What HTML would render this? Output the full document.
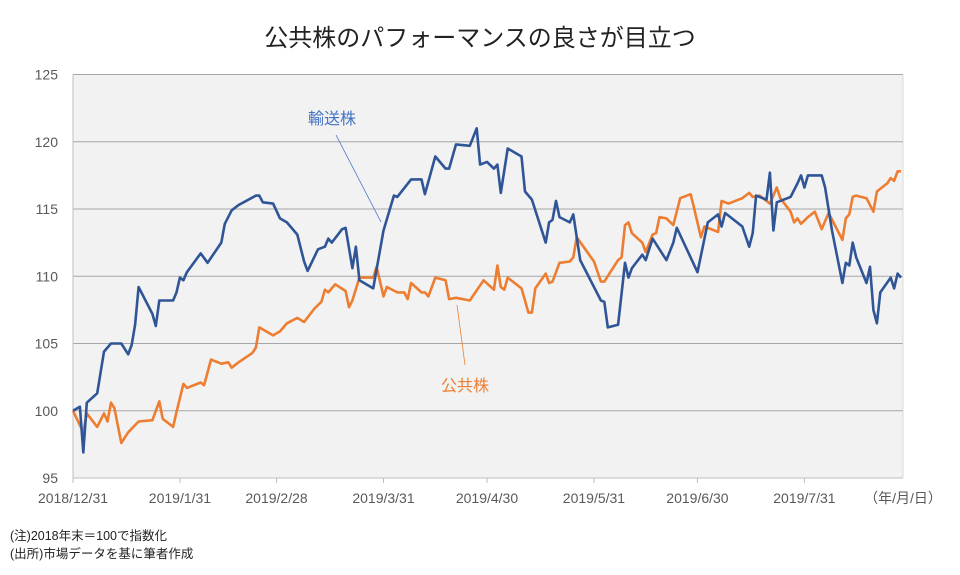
<!DOCTYPE html>
<html><head><meta charset="utf-8"><style>
body{margin:0;background:#fff;width:960px;height:570px;overflow:hidden;font-family:"Liberation Sans","Noto Sans CJK JP",sans-serif;}
</style></head><body>
<svg id="chart" width="960" height="570" xmlns="http://www.w3.org/2000/svg" font-family="Liberation Sans, Noto Sans CJK JP, sans-serif">
<text x="480" y="46" text-anchor="middle" font-size="24" fill="#222">公共株のパフォーマンスの良さが目立つ</text>
<rect x="73" y="74.5" width="830" height="403.5" fill="#f2f2f2"/>
<g id="grid"></g><g id="axes"></g><g id="series"></g>
<line x1="336" y1="135" x2="381" y2="222" stroke="#4472c4" stroke-width="0.8"/>
<text x="332" y="124" text-anchor="middle" font-size="16" fill="#4472c4">輸送株</text>
<line x1="457" y1="305" x2="465" y2="365" stroke="#ed7d31" stroke-width="0.8"/>
<text x="465" y="391" text-anchor="middle" font-size="16" fill="#ed7d31">公共株</text>
<text x="903" y="503" text-anchor="middle" font-size="14" fill="#595959">（年/月/日）</text>
<text x="10" y="540" font-size="12.5" fill="#222">(注)2018年末＝100で指数化</text>
<text x="10" y="558" font-size="12.5" fill="#222">(出所)市場データを基に筆者作成</text>
</svg>
<script>
const yTicks=[95,100,105,110,115,120,125];
const xTickLabels=["2018/12/31","2019/1/31","2019/2/28","2019/3/31","2019/4/30","2019/5/31","2019/6/30","2019/7/31"];
const xTickDays=[0,31,59,90,120,151,181,212];
const transportDays=[0,2,3,4,7,9,11,14,16,17,18,19,23,24,25,29,30,31,32,33,37,39,43,44,46,48,53,54,55,58,60,62,65,67,68,71,73,74,75,78,79,81,82,83,87,90,93,94,98,101,102,105,108,109,111,115,117,118,120,122,123,124,126,130,131,133,137,138,139,140,141,144,145,147,153,154,155,158,160,161,162,165,166,168,172,174,175,181,184,187,188,189,194,196,197,198,201,202,203,204,208,210,211,212,213,217,218,220,223,224,225,226,227,230,231,232,233,234,237,238,239,240];
const transportValues=[100.0,100.3,96.9,100.6,101.3,104.4,105.0,105.0,104.2,104.9,106.4,109.2,107.2,106.3,108.2,108.2,108.8,109.9,109.7,110.3,111.7,111.0,112.5,113.9,114.9,115.3,116.0,116.0,115.5,115.4,114.3,114.0,113.1,111.1,110.4,112.0,112.2,112.8,112.5,113.5,113.6,110.6,112.2,109.7,109.1,113.4,116.0,115.9,117.2,117.2,116.1,118.9,118.0,118.0,119.8,119.7,121.0,118.3,118.5,118.0,118.3,116.2,119.5,118.9,116.3,115.7,112.5,114.0,114.2,115.6,114.4,114.0,114.6,111.2,108.2,108.1,106.2,106.4,111.0,109.9,110.6,111.6,111.2,112.8,111.2,112.5,113.6,110.3,114.0,114.6,113.7,114.7,113.7,112.2,113.2,116.0,115.7,117.7,113.4,115.5,115.9,116.9,117.5,116.6,117.5,117.5,116.6,113.4,109.5,111.0,110.8,112.5,111.4,109.5,110.7,107.5,106.5,108.8,109.9,109.1,110.2,109.9];
const utilityDays=[0,3,4,7,9,10,11,12,14,16,19,23,25,26,29,30,32,33,37,38,40,43,45,46,48,52,53,54,58,60,62,65,67,70,72,73,74,76,79,80,81,83,87,88,90,91,94,96,97,98,101,102,103,105,108,109,111,115,119,122,123,124,125,126,130,131,132,133,134,137,138,139,141,144,145,146,151,153,154,158,159,160,161,162,165,166,168,169,170,172,174,176,179,180,182,183,187,188,190,194,196,197,199,202,204,205,208,209,210,211,213,215,217,219,223,224,225,226,227,230,232,233,236,237,238,239,240];
const utilityValues=[100.0,98.4,99.8,98.8,99.8,99.2,100.6,100.2,97.6,98.4,99.2,99.3,100.7,99.4,98.8,99.9,102.0,101.7,102.1,101.9,103.8,103.5,103.6,103.2,103.6,104.3,104.7,106.2,105.6,105.9,106.5,106.9,106.6,107.6,108.1,109.0,108.8,109.4,108.9,107.7,108.2,109.9,109.9,110.7,108.5,109.2,108.8,108.8,108.3,109.5,108.8,108.8,108.5,109.9,109.7,108.3,108.4,108.2,109.7,109.0,110.8,109.2,109.0,109.9,109.1,108.2,107.3,107.3,109.1,110.2,109.5,109.6,111.0,111.1,111.4,112.9,111.1,109.6,109.6,111.2,111.4,113.8,114.0,113.2,112.5,111.8,113.1,113.2,114.4,114.3,113.8,115.8,116.1,115.1,112.9,113.7,113.3,115.6,115.4,115.8,116.2,115.9,116.0,115.4,116.6,115.8,114.8,114.0,114.3,113.9,114.4,114.8,113.5,114.7,112.7,114.3,114.6,115.9,116.0,115.8,114.8,116.3,116.9,117.3,117.1,117.8,117.8];

const NS="http://www.w3.org/2000/svg";
const X0=73,X1=903,Y0=478,Y1=74.5;
function xs(d){return X0+d*3.45;}
function ys(v){return Y0-(v-95)*(Y0-Y1)/30;}
function mk(t,a,p){const e=document.createElementNS(NS,t);for(const k in a)e.setAttribute(k,a[k]);p.appendChild(e);return e;}
const grid=document.getElementById('grid'),axes=document.getElementById('axes'),series=document.getElementById('series');
yTicks.forEach(v=>{
  const l=mk('line',{x1:X0,x2:X1,y1:ys(v),y2:ys(v),stroke:v===95?'#bfbfbf':'#a6a6a6','stroke-width':1},grid);
  
  
  const t=mk('text',{x:58,y:ys(v)+5,'text-anchor':'end','font-size':14,fill:'#595959'},axes);
  t.textContent=v;
  
  
});
const ya=mk('line',{x1:X0,x2:X0,y1:Y1,y2:Y0,stroke:'#bfbfbf'},axes);


const rb=mk('line',{x1:X1,x2:X1,y1:Y1,y2:Y0,stroke:'#d9d9d9'},axes);


xTickLabels.forEach((s,i)=>{
  const x=xs(xTickDays[i]);
  const tk=mk('line',{x1:x,x2:x,y1:Y0,y2:Y0+5,stroke:'#bfbfbf'},axes);
  
  
  const t=mk('text',{x:x,y:503,'text-anchor':'middle','font-size':14,fill:'#595959'},axes);
  t.textContent=s;
  
  
});
function line(days,vals,color,name){
  const d=days.map((dd,i)=>(i?'L':'M')+xs(dd).toFixed(1)+','+ys(vals[i]).toFixed(1)).join('');
  const p=mk('path',{d:d,fill:'none',stroke:color,'stroke-width':2.6,'stroke-linejoin':'round'},series);
  
  
}
line(utilityDays,utilityValues,'#ed7d31','utility-stocks-line');
line(transportDays,transportValues,'#2f5597','transport-stocks-line');
</script>
</body></html>
